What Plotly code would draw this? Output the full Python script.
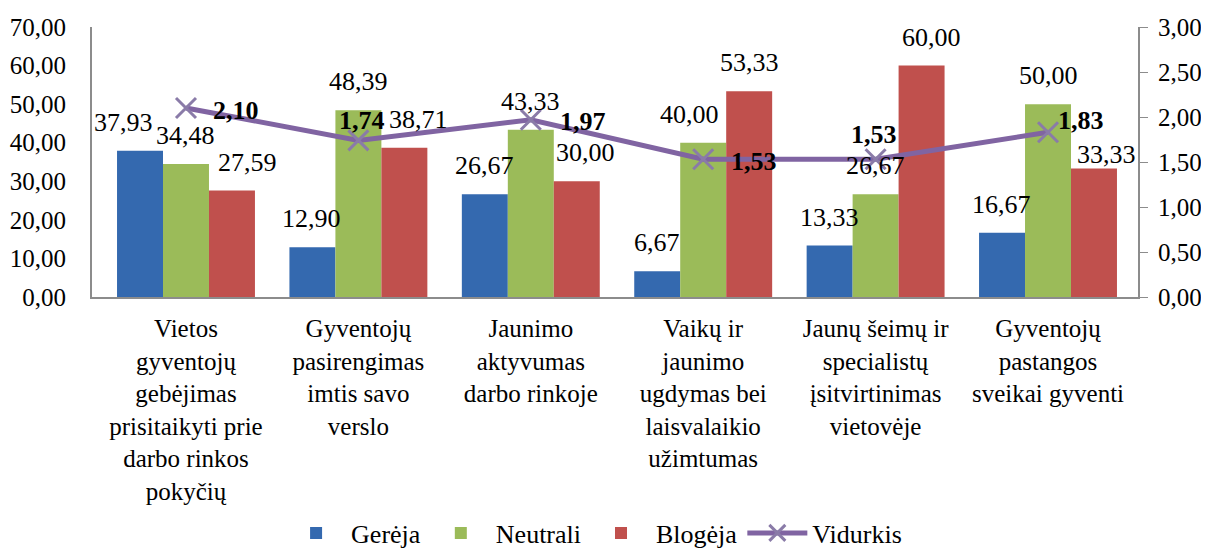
import plotly.graph_objects as go

categories = [
    "Vietos<br>gyventojų<br>gebėjimas<br>prisitaikyti prie<br>darbo rinkos<br>pokyčių",
    "Gyventojų<br>pasirengimas<br>imtis savo<br>verslo",
    "Jaunimo<br>aktyvumas<br>darbo rinkoje",
    "Vaikų ir<br>jaunimo<br>ugdymas bei<br>laisvalaikio<br>užimtumas",
    "Jaunų šeimų ir<br>specialistų<br>įsitvirtinimas<br>vietovėje",
    "Gyventojų<br>pastangos<br>sveikai gyventi",
]
gereja = [37.93, 12.90, 26.67, 6.67, 13.33, 16.67]
neutrali = [34.48, 48.39, 43.33, 40.00, 26.67, 50.00]
blogeja = [27.59, 38.71, 30.00, 53.33, 60.00, 33.33]
vidurkis = [2.10, 1.74, 1.97, 1.53, 1.53, 1.83]

FONT = "Liberation Serif, Times New Roman, serif"
# the page body has an 8px margin, so the figure is drawn 8px smaller
WIDTH, HEIGHT = 1201, 540
MARGIN = dict(l=84, r=71, t=19, b=251)
BAR_W = (WIDTH - MARGIN["l"] - MARGIN["r"]) / 6 * 0.8 / 3  # px width of one bar

# label nudges (px) copied from how the labels sit in the original
bar_label_dx = [
    [-16, 0, 0, 0, 0, 0],
    [0, 0, 0, -14, 0, 0],
    [15, 14, 8, 0, 9, 12],
]
bar_label_dy = [
    [12, 12, 12, 12, 12, 12],
    [12, 12, 12, 12, 12, 12],
    [12, 12, 12, 12, 12, -3],
]
avg_label_dx = [25, 4, 27, 26, -2, 8]
avg_label_dy = [-2, 20, -2, -2, 25, 12]
avg_label_anchor = ["left", "center", "left", "left", "center", "left"]


def fmt(v):
    return f"{v:.2f}".replace(".", ",")


fig = go.Figure()
series = [
    ("Gerėja", gereja, "#3469AF"),
    ("Neutrali", neutrali, "#9BBB59"),
    ("Blogėja", blogeja, "#C0504D"),
]
annotations = []
for k, (name, vals, color) in enumerate(series):
    fig.add_trace(go.Bar(
        x=categories, y=vals, name=name,
        marker=dict(color=color, line=dict(width=0)),
    ))
    for i, v in enumerate(vals):
        annotations.append(dict(
            x=categories[i], y=v, xref="x", yref="y", text=fmt(v), showarrow=False,
            xanchor="center", yanchor="bottom",
            xshift=(k - 1) * BAR_W + bar_label_dx[k][i], yshift=bar_label_dy[k][i],
            font=dict(size=26, color="black", family=FONT),
        ))

fig.add_trace(go.Scatter(
    x=categories, y=vidurkis, name="Vidurkis", yaxis="y2",
    mode="lines+markers",
    line=dict(color="#8064A2", width=5),
    marker=dict(symbol="x-thin", size=20, color="#8A7BA8",
                line=dict(width=3, color="#8A7BA8")),
    cliponaxis=False,
))
for i, v in enumerate(vidurkis):
    annotations.append(dict(
        x=categories[i], y=v, xref="x", yref="y2", text=f"<b>{fmt(v)}</b>", showarrow=False,
        xanchor=avg_label_anchor[i], yanchor="middle",
        xshift=avg_label_dx[i], yshift=avg_label_dy[i],
        font=dict(size=26, color="black", family=FONT),
    ))

fig.update_layout(
    width=WIDTH, height=HEIGHT,
    margin=dict(**MARGIN, autoexpand=False),
    paper_bgcolor="white", plot_bgcolor="white",
    separators=", ",
    font=dict(family=FONT, size=26, color="black"),
    barmode="group", bargap=0.2, bargroupgap=0,
    showlegend=True,
    annotations=annotations,
    legend=dict(orientation="h", x=0.48, xanchor="center", y=-0.874, yanchor="middle",
                font=dict(size=26), traceorder="normal", itemwidth=60),
    xaxis=dict(showline=True, linecolor="#8C8C8C", linewidth=2, ticks="",
               tickfont=dict(size=25), showgrid=False, ticklabelstandoff=8,
               automargin=False),
    yaxis=dict(range=[0, 70], dtick=10, tickformat=".2f", showgrid=False,
               showline=True, linecolor="#8C8C8C", linewidth=2, ticks="",
               tickfont=dict(size=25), zeroline=False, ticklabelstandoff=19,
               automargin=False),
    yaxis2=dict(range=[0, 3], dtick=0.5, tickformat=".2f", overlaying="y", side="right",
                showgrid=False, showline=True, linecolor="#8C8C8C", linewidth=2,
                ticks="outside", ticklen=8, tickcolor="#8C8C8C",
                tickfont=dict(size=25), zeroline=False, ticklabelstandoff=5,
                automargin=False),
)

fig.write_html("out.html")
